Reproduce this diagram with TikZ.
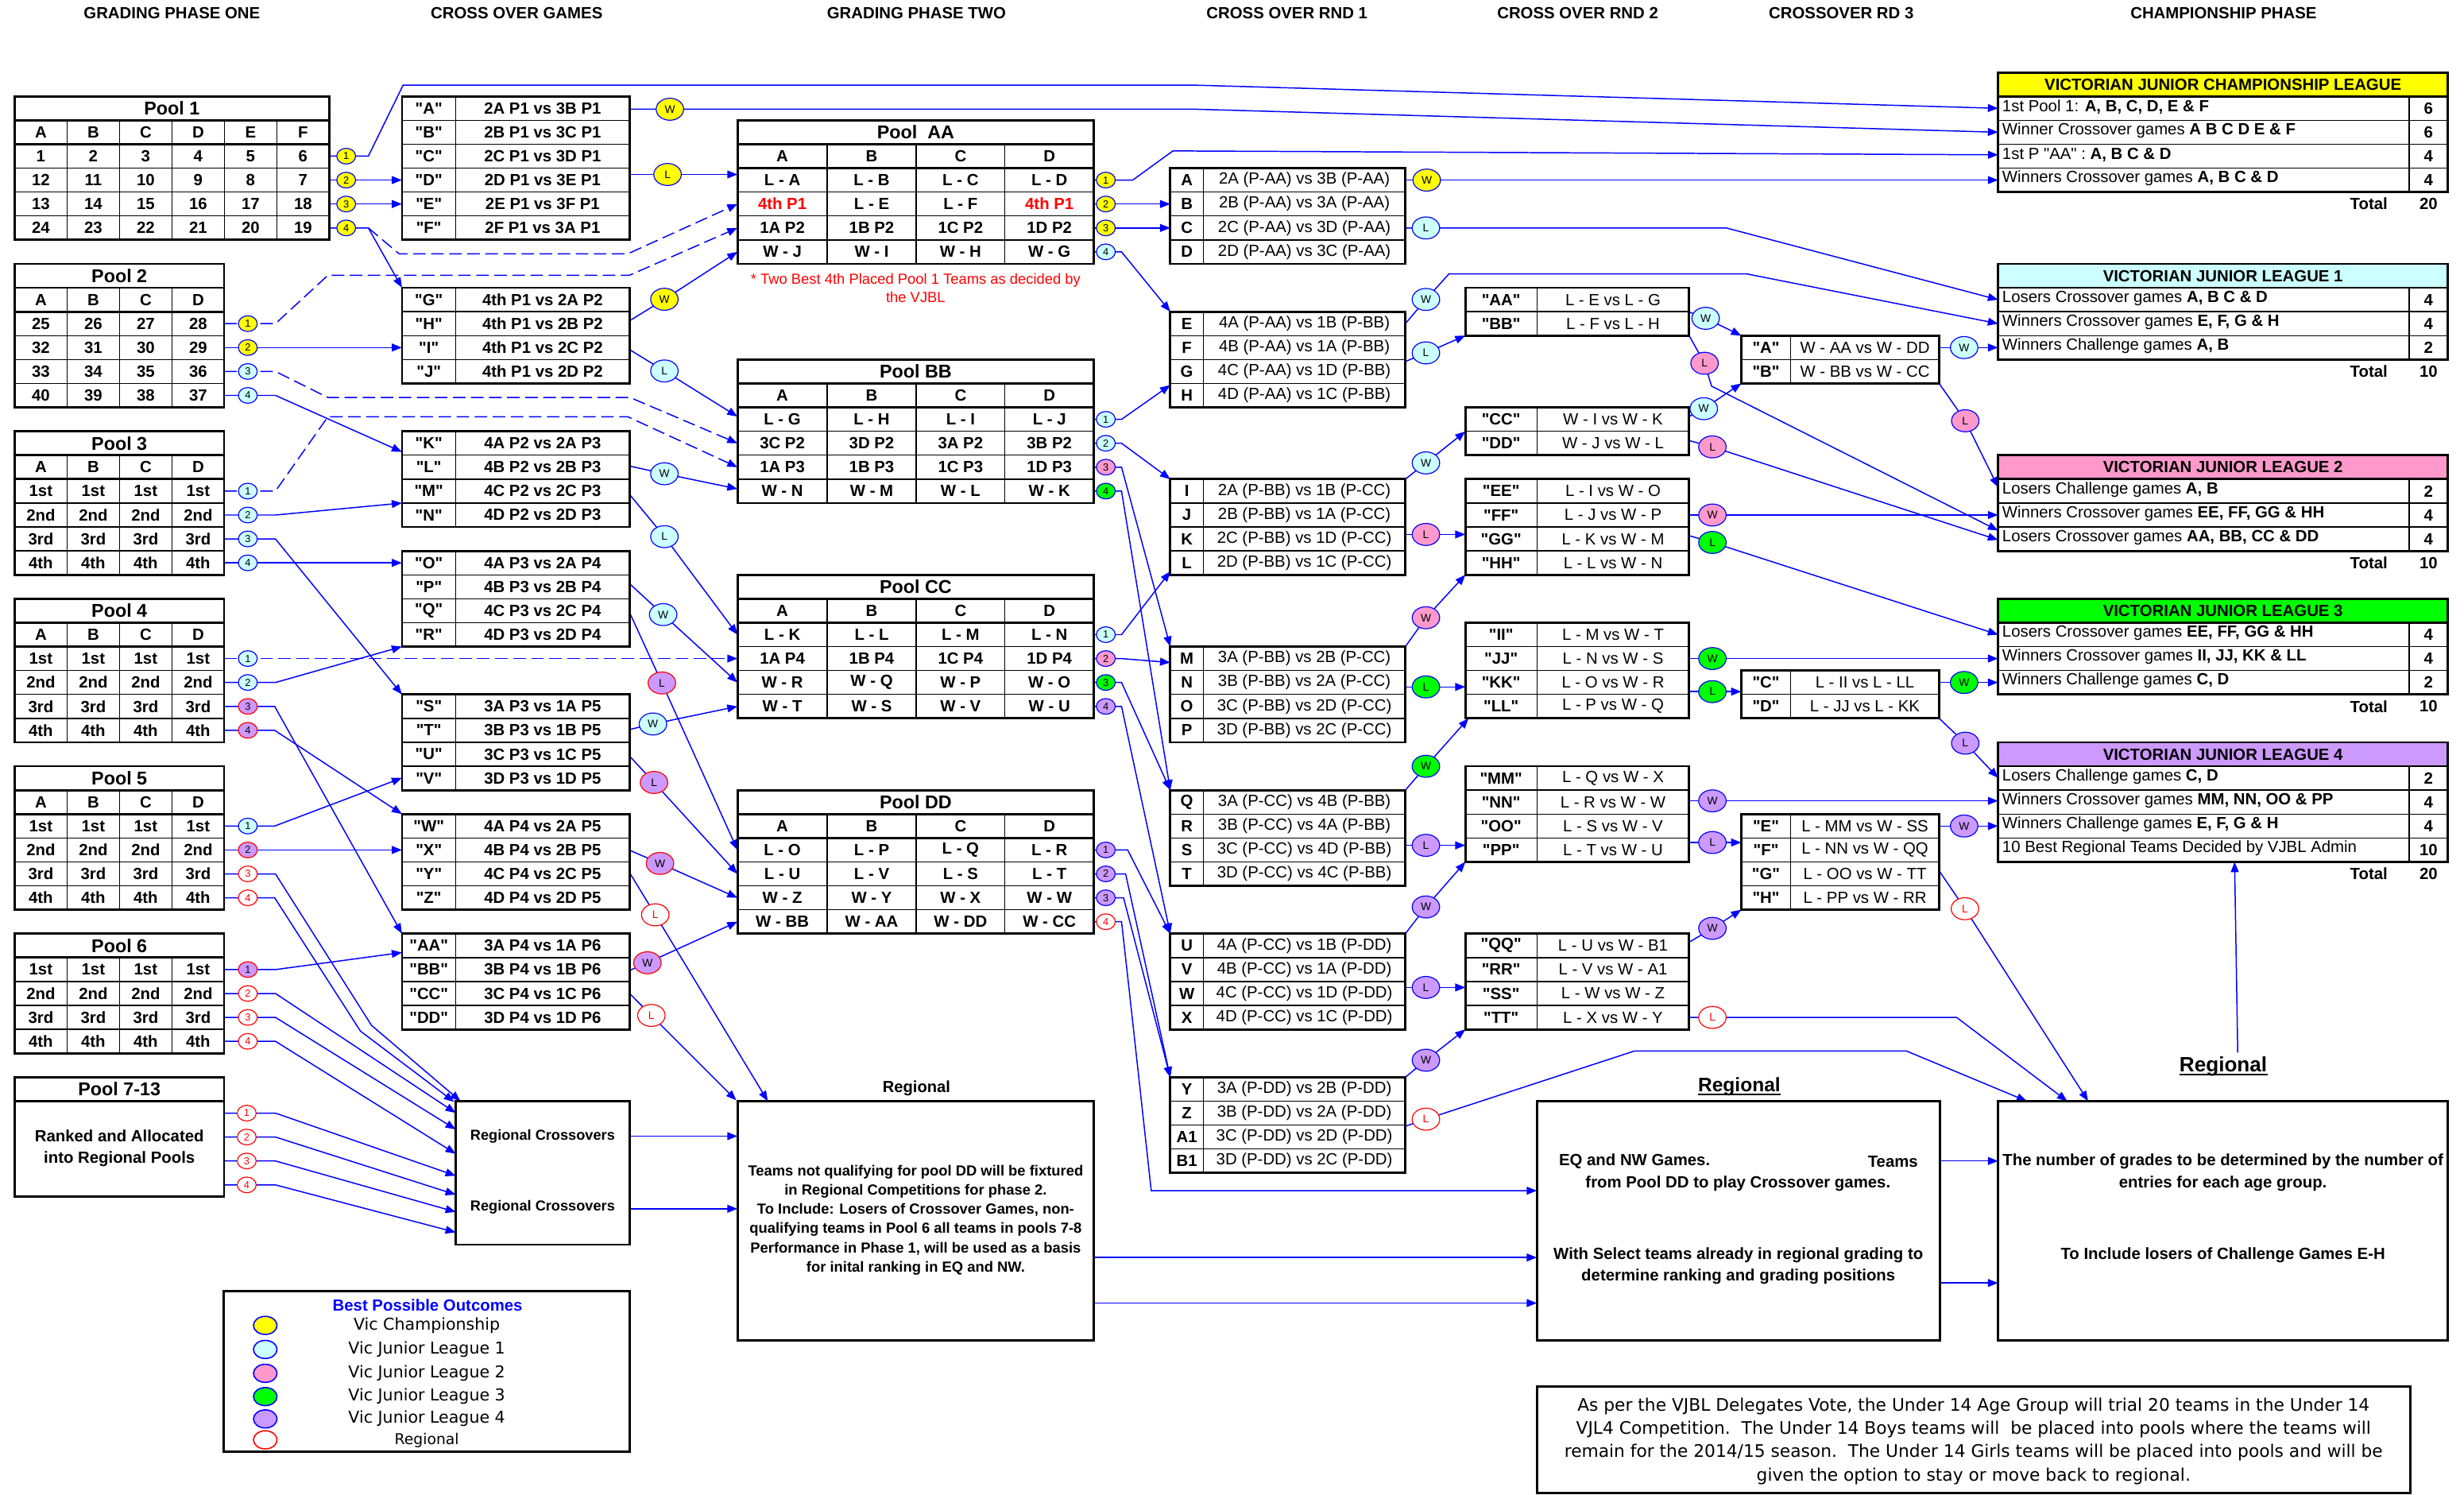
\documentclass[tikz,border=0pt]{standalone}
\usepackage{fontspec}
\setmainfont{Liberation Sans}
\newfontfamily\dejavu{DejaVu Sans}
\usetikzlibrary{arrows.meta,shapes.geometric}
\definecolor{yelC}{HTML}{FFFF00}
\definecolor{cyanC}{HTML}{CCFFFF}
\definecolor{pinkC}{HTML}{FF99CC}
\definecolor{greenC}{HTML}{00FF00}
\definecolor{purpC}{HTML}{CC99FF}
\definecolor{lnC}{HTML}{0000FF}
\newcommand\dq{\XeTeXglyph\XeTeXcharglyph34\relax}
\tikzset{
 gridl/.style={line width=0.7pt, draw=black},
 tframe/.style={line width=1.4pt, draw=black},
 ln/.style={draw=lnC, line width=0.75pt},
 arr/.style={ln, -{Triangle[length=6.5pt,width=5pt]}},
 dsh/.style={arr, dash pattern=on 8pt off 3.5pt},
 bt/.style={inner sep=0pt, font=\fontsize{10.3}{12.4}\selectfont\bfseries},
 rt/.style={inner sep=0pt, font=\fontsize{10.3}{12.4}\selectfont},
 ttl/.style={inner sep=0pt, font=\fontsize{11.8}{14}\selectfont\bfseries},
 smc/.style={ellipse, line width=0.6pt, inner sep=0pt, minimum width=12pt, minimum height=10pt, font=\fontsize{6.5}{7}\selectfont},
 bigc/.style={smc, minimum width=17.5pt, minimum height=14pt, font=\fontsize{7}{8}\selectfont},
}
\newcommand\mytab[7]{%
 \pgfmathsetmacro\myA{46.08+15.22*(#3)}%
 \pgfmathsetmacro\myB{46.08+15.22*(#3+#4)}%
 \pgfmathsetmacro\myC{46.08+15.22*(#3+#6)}%
 \pgfmathtruncatemacro\myN{#4-1}%
 \foreach \kk in {1,...,\myN}{\pgfmathsetmacro\myY{46.08+15.22*(#3+\kk)}\draw[gridl] (#1,\myY) -- (#2,\myY);}%
 \foreach \xx in {#5}{\draw[gridl] (\xx,\myC) -- (\xx,\myB);}%
 \foreach \kk in {#7}{\pgfmathsetmacro\myY{46.08+15.22*(#3+\kk)}\draw[tframe] (#1,\myY) -- (#2,\myY);}%
 \draw[tframe] (#1,\myA) rectangle (#2,\myB);%
}
\newcommand\rtx[4]{%
 \pgfmathsetmacro\myR{46.08+15.22*(#2+0.5)}%
 \foreach \cx/\ct [count=\ci] in {#4}{\node[#3] (#1-\ci) at (\cx,\myR) {\ct};}%
}
\newcommand\two[8]{%
 \pgfmathsetmacro\myR{46.08+15.22*(#2+0.5)}%
 \node[#4] (#1a) at (#3,\myR) {#5};%
 \node[#7] (#1b) at (#6,\myR) {#8};%
}
\newcommand\xG[3]{\two{xg#1}{#1}{272.9}{bt}{#2}{345.3}{bt}{#3}}
\newcommand\xRa[3]{\two{ra#1}{#1}{755.25}{bt}{#2}{830.05}{rt}{#3}}
\newcommand\xRb[3]{\two{rb#1}{#1}{955.25}{bt}{#2}{1026.45}{rt}{#3}}
\newcommand\xRc[3]{\two{rc#1}{#1}{1123.8}{bt}{#2}{1186.75}{rt}{#3}}
\newcommand\chrow[3]{%
 \pgfmathsetmacro\myR{46.08+15.22*(#1+0.5)}%
 \node[rt,anchor=west] (ch#1a) at (1274,\myR-1) {#2};%
 \node[bt] (ch#1b) at (1545.4,\myR) {#3};%
}
\def\smallC{p1a/220.3/99.35/yelC/lnC/black/1,
p1b/220.3/114.57/yelC/lnC/black/2,
p1c/220.3/129.79/yelC/lnC/black/3,
p1d/220.3/145.01/yelC/lnC/black/4,
p2a/157.7/205.89/yelC/lnC/black/1,
p2b/157.7/221.11/yelC/lnC/black/2,
p2c/157.7/236.33/cyanC/lnC/black/3,
p2d/157.7/251.55/cyanC/lnC/black/4,
p3a/157.7/312.43/cyanC/lnC/black/1,
p3b/157.7/327.65/cyanC/lnC/black/2,
p3c/157.7/342.87/cyanC/lnC/black/3,
p3d/157.7/358.09/cyanC/lnC/black/4,
p4a/157.7/418.97/cyanC/lnC/black/1,
p4b/157.7/434.19/cyanC/lnC/black/2,
p4c/157.7/449.41/purpC/red/black/3,
p4d/157.7/464.63/purpC/red/black/4,
p5a/157.7/525.51/cyanC/lnC/black/1,
p5b/157.7/540.73/purpC/red/black/2,
p5c/157.7/555.95/white/red/red/3,
p5d/157.7/571.17/white/red/red/4,
p6a/157.7/616.83/purpC/red/black/1,
p6b/157.7/632.05/white/red/red/2,
p6c/157.7/647.27/white/red/red/3,
p6d/157.7/662.49/white/red/red/4,
p7a/157/708.15/white/red/red/1,
p7b/157/723.37/white/red/red/2,
p7c/157/738.59/white/red/red/3,
p7d/157/753.81/white/red/red/4,
aa1/703.7/114.57/yelC/lnC/black/1,
aa2/703.7/129.79/yelC/lnC/black/2,
aa3/703.7/145.01/yelC/lnC/black/3,
aa4/703.7/160.23/cyanC/lnC/black/4,
bb1/703.7/266.77/cyanC/lnC/black/1,
bb2/703.7/281.99/cyanC/lnC/black/2,
bb3/703.7/297.21/pinkC/lnC/black/3,
bb4/703.7/312.43/greenC/lnC/black/4,
cc1/703.7/403.75/cyanC/lnC/black/1,
cc2/703.7/418.97/pinkC/lnC/black/2,
cc3/703.7/434.19/greenC/lnC/black/3,
cc4/703.7/449.41/purpC/lnC/black/4,
dd1/703.7/540.73/purpC/lnC/black/1,
dd2/703.7/555.95/purpC/lnC/black/2,
dd3/703.7/571.17/purpC/lnC/black/3,
dd4/703.7/586.39/white/red/red/4}
\def\bigC{m1/426.3/69.5/yelC/lnC/black/W,
m2/424.8/111/yelC/lnC/black/L,
m3/422.8/190.4/yelC/lnC/black/W,
m4/422.8/236/cyanC/lnC/black/L,
m5/422.8/301.4/cyanC/lnC/black/W,
m6/422.8/341.4/cyanC/lnC/black/L,
m7/422/391/cyanC/lnC/black/W,
m8/421.2/434.5/purpC/red/black/L,
m9/415.5/460.6/cyanC/lnC/black/W,
m10/416.2/497.8/purpC/red/black/L,
m11/420/549.3/purpC/red/black/W,
m12/417/582/white/red/red/L,
m13/412/612.5/purpC/red/black/W,
m14/414.5/646/white/red/red/L,
n1/907.9/114.57/yelC/lnC/black/W,
n2/907.4/145.01/cyanC/lnC/black/L,
n3/907.4/190.5/cyanC/lnC/black/W,
n4/907.4/224.5/cyanC/lnC/black/L,
n5/907.4/294.5/cyanC/lnC/black/W,
n6/907.4/340/pinkC/lnC/black/L,
n7/907.4/393/pinkC/lnC/black/W,
n8/907.4/437/greenC/lnC/black/L,
n9/907.4/487.5/greenC/lnC/black/W,
n10/907.4/537.8/purpC/lnC/black/L,
n11/907.4/577/purpC/lnC/black/W,
n12/907.4/628.2/purpC/lnC/black/L,
n13/907.4/674.5/purpC/lnC/black/W,
n14/907.4/712/white/red/red/L,
o1/1085.4/202.5/cyanC/lnC/black/W,
o2/1084.7/231.1/pinkC/lnC/black/L,
o3/1084.2/260/cyanC/lnC/black/W,
o4/1089.7/284.3/pinkC/lnC/black/L,
o5/1089.7/327.65/pinkC/lnC/black/W,
o6/1089.7/345.1/greenC/lnC/black/L,
o7/1089.7/418.97/greenC/lnC/black/W,
o8/1089.7/440/greenC/lnC/black/L,
o9/1089.7/509.5/purpC/lnC/black/W,
o10/1089.7/536/purpC/lnC/black/L,
o11/1089.7/590.6/purpC/lnC/black/W,
o12/1089.7/647.27/white/red/red/L,
q1/1249.9/221.11/cyanC/lnC/black/W,
q2/1250.6/267.7/pinkC/lnC/black/L,
q3/1249.9/434.19/greenC/lnC/black/W,
q4/1250.6/472.8/purpC/lnC/black/L,
q5/1249.9/525.51/purpC/lnC/black/W,
q6/1250.4/578.1/white/red/red/L}
\begin{document}
\begin{tikzpicture}[x=1pt,y=-1pt]
\useasboundingbox (0,0) rectangle (1568,951);
\fill[white] (0,0) rectangle (1568,951);
% ---------- coordinates of circles
\foreach \ZN/\ZX/\ZY/\ZF/\ZD/\ZT/\ZL in \smallC {\coordinate (\ZN) at (\ZX,\ZY);}
\foreach \ZN/\ZX/\ZY/\ZF/\ZD/\ZT/\ZL in \bigC {\coordinate (\ZN) at (\ZX,\ZY);}
% ---------- connectors
\draw[arr] (209.5,99.35) -- (p1a) -- (234.4,99.35) -- (256.5,54.2) -- (761.5,54.2) -- (1271.5,68.91);
\draw[arr] (400.6,69.5) -- (m1) -- (761.5,69.5) -- (1271.5,84.13);
\draw[arr] (696.1,114.57) -- (aa1) -- (720.8,114.57) -- (746.4,96) -- (1271.5,98.5);
\draw[arr] (894.3,114.57) -- (n1) -- (1271.5,114.57);
\draw[arr] (209.5,114.57) -- (p1b) -- (255.8,114.57);
\draw[arr] (209.5,129.79) -- (p1c) -- (255.8,129.79);
\draw[arr] (209.5,145.01) -- (p1d) -- (234.4,145.01) -- (255.8,183.06);
\draw[dsh] (234.4,145.01) -- (254,161.5) -- (399.4,161.5) -- (469.3,129.79);
\draw[dsh] (142.6,205.89) -- (p2a) -- (175.3,205.89) -- (208.7,175.1) -- (400.6,175.1) -- (469.3,145.01);
\draw[arr] (142.6,221.11) -- (p2b) -- (255.8,221.11);
\draw[dsh] (142.6,236.33) -- (p2c) -- (175.3,236.33) -- (208.7,252.9) -- (401,252.9) -- (469.3,281.99);
\draw[arr] (142.6,251.55) -- (p2d) -- (175.3,251.55) -- (255.8,287.5);
\draw[dsh] (142.6,312.43) -- (p3a) -- (175.3,312.43) -- (208.7,265.1) -- (399.4,265.1) -- (469.3,297.21);
\draw[arr] (142.6,327.65) -- (p3b) -- (175.3,327.65) -- (255.8,320.04);
\draw[arr] (142.6,342.87) -- (p3c) -- (175.3,342.87) -- (255.8,441.8);
\draw[arr] (142.6,358.09) -- (p3d) -- (255.8,358.09);
\draw[dsh] (142.6,418.97) -- (p4a) -- (469.3,418.97);
\draw[arr] (142.6,434.19) -- (p4b) -- (175.3,434.19) -- (255.8,411.36);
\draw[arr] (142.6,449.41) -- (p4c) -- (174.8,449.41) -- (255.8,594);
\draw[arr] (142.6,464.63) -- (p4d) -- (174.8,464.63) -- (255.8,517.9);
\draw[arr] (142.6,525.51) -- (p5a) -- (174.8,525.51) -- (255.8,494.9);
\draw[arr] (142.6,540.73) -- (p5b) -- (255.8,540.73);
\draw[arr] (142.6,555.95) -- (p5c) -- (175.3,555.95) -- (236.4,652.3) -- (293,700.5);
\draw[arr] (142.6,571.17) -- (p5d) -- (174.8,571.17) -- (229.4,656) -- (289,701);
\draw[arr] (142.6,616.83) -- (p6a) -- (175.3,616.83) -- (255.8,606);
\draw[arr] (142.6,632.05) -- (p6b) -- (175.3,632.05) -- (290,708);
\draw[arr] (142.6,647.27) -- (p6c) -- (175.3,647.27) -- (290,718.5);
\draw[arr] (142.6,662.49) -- (p6d) -- (175.3,662.49) -- (290,734);
\draw[arr] (142.6,708.15) -- (p7a) -- (175.3,708.15) -- (290,748);
\draw[arr] (142.6,723.37) -- (p7b) -- (175.3,723.37) -- (290,760);
\draw[arr] (142.6,738.59) -- (p7c) -- (175.3,738.59) -- (290,771);
\draw[arr] (142.6,753.81) -- (p7d) -- (175.3,753.81) -- (290,784);
% middle-left
\draw[arr] (400.6,111) -- (m2) -- (469.3,111);
\draw[arr] (400.6,204.1) -- (m3) -- (469.3,160.23);
\draw[arr] (400.6,222.4) -- (m4) -- (469.3,265);
\draw[arr] (400.6,296.5) -- (m5) -- (469.3,311);
\draw[arr] (400.6,314.5) -- (m6) -- (469.3,403.75);
\draw[arr] (400.6,371.3) -- (m7) -- (469.3,434.19);
\draw[arr] (400.6,389.6) -- (m8) -- (469.3,540.73);
\draw[arr] (400.6,464.1) -- (m9) -- (469.3,449.41);
\draw[arr] (400.6,481) -- (m10) -- (469.3,555.95);
\draw[arr] (400.6,540.9) -- (m11) -- (469.3,571.17);
\draw[arr] (400.6,555.1) -- (m12) -- (488.6,700.54);
\draw[arr] (400.6,617.4) -- (m13) -- (469.3,586.39);
\draw[arr] (400.6,632) -- (m14) -- (468.5,700);
% pools AA-DD right side
\draw[arr] (696.1,129.79) -- (aa2) -- (744.7,129.79);
\draw[arr] (696.1,145.01) -- (aa3) -- (744.7,145.01);
\draw[arr] (696.1,160.23) -- (aa4) -- (713.7,160.23) -- (744.7,198.28);
\draw[arr] (696.1,266.77) -- (bb1) -- (713.7,266.77) -- (744.7,245);
\draw[arr] (696.1,281.99) -- (bb2) -- (713.7,281.99) -- (744.7,304.82);
\draw[arr] (696.1,297.21) -- (bb3) -- (713.7,297.21) -- (744.7,411.36);
\draw[arr] (696.1,312.43) -- (bb4) -- (713.7,312.43) -- (744.7,502.68);
\draw[arr] (696.1,403.75) -- (cc1) -- (713.7,403.75) -- (744.7,363.5);
\draw[arr] (696.1,418.97) -- (cc2) -- (713.7,418.97) -- (744.7,421.5);
\draw[arr] (696.1,434.19) -- (cc3) -- (713.7,434.19) -- (744.7,502.68);
\draw[arr] (696.1,449.41) -- (cc4) -- (713.7,449.41) -- (744.7,594);
\draw[arr] (696.1,540.73) -- (dd1) -- (717.6,540.73) -- (744.7,594);
\draw[arr] (696.1,555.95) -- (dd2) -- (716.3,555.95) -- (744.7,685.32);
\draw[arr] (696.1,571.17) -- (dd3) -- (715,571.17) -- (744.7,685.32);
\draw[arr] (696.1,586.39) -- (dd4) -- (713.7,586.39) -- (718.8,632) -- (732.6,757.5) -- (978,757.5);
% round 1 side
\draw[arr] (894.3,145.01) -- (n2) -- (1098.5,145.01) -- (1271.5,190.67);
\draw[arr] (894.3,205.89) -- (n3) -- (922,174.3) -- (1111.8,174.3) -- (1271.5,205.89);
\draw[arr] (894.3,230) -- (n4) -- (932.5,213.5);
\draw[arr] (894.3,304.82) -- (n5) -- (932.5,274.5);
\draw[arr] (894.3,340) -- (n6) -- (932.5,340);
\draw[arr] (894.3,411.36) -- (n7) -- (932.5,365.7);
\draw[arr] (894.3,437) -- (n8) -- (932.5,437);
\draw[arr] (894.3,502.68) -- (n9) -- (934.5,457.02);
\draw[arr] (894.3,537.8) -- (n10) -- (932.5,537.8);
\draw[arr] (894.3,594) -- (n11) -- (932.5,548.34);
\draw[arr] (894.3,628.2) -- (n12) -- (932.5,628.2);
\draw[arr] (894.3,685.32) -- (n13) -- (932.5,654.88);
\draw[arr] (894.3,716.5) -- (n14) -- (1040.2,668.6) -- (1213.1,668.6) -- (1289.8,700.54);
% round 2 side
\draw[arr] (1074.9,198.5) -- (o1) -- (1108.1,213.5);
\draw[arr] (1074.9,213.5) -- (o2) -- (1089.2,245.7) -- (1271.5,337.5);
\draw[arr] (1074.9,265) -- (o3) -- (1108.1,243.94);
\draw[arr] (1074.9,280.3) -- (o4) -- (1271.5,343.5);
\draw[arr] (1074.9,327.65) -- (o5) -- (1271.5,327.65);
\draw[arr] (1074.9,340.8) -- (o6) -- (1271.5,403.75);
\draw[arr] (1074.9,418.97) -- (o7) -- (1271.5,418.97);
\draw[arr] (1074.9,440) -- (o8) -- (1108.1,440);
\draw[arr] (1074.9,509.5) -- (o9) -- (1271.5,509.5);
\draw[arr] (1074.9,536) -- (o10) -- (1108.1,536);
\draw[arr] (1074.9,599.4) -- (o11) -- (1108.1,578.78);
\draw[arr] (1074.9,647.27) -- (o12) -- (1245.1,647.27) -- (1315.5,700.54);
% round 3 side
\draw[arr] (1234,221.11) -- (q1) -- (1271.5,221.11);
\draw[arr] (1234,243.94) -- (q2) -- (1271.5,310);
\draw[arr] (1234,434.19) -- (q3) -- (1271.5,434.19);
\draw[arr] (1234,457.02) -- (q4) -- (1271.5,494.87);
\draw[arr] (1234,525.51) -- (q5) -- (1271.5,525.51);
\draw[arr] (1234,554) -- (q6) -- (1328.8,700.54);
% bottom boxes
\draw[arr] (400.6,722.8) -- (469.3,722.8);
\draw[arr] (400.6,769) -- (469.3,769);
\draw[arr] (696.1,800) -- (978,800);
\draw[arr] (696.1,829) -- (978,829);
\draw[arr] (1234.5,738.6) -- (1271.5,738.6);
\draw[arr] (1234.5,816.2) -- (1271.5,816.2);
\coordinate (regtop) at (1424,669.6);
\draw[arr] (regtop) -- (1422,548.34);
% ---------- headers
\node[bt] (h1) at (109.4,8.5) {GRADING PHASE ONE};
\node[bt] (h2) at (328.8,8.5) {CROSS OVER GAMES};
\node[bt] (h3) at (583.2,8.5) {GRADING PHASE TWO};
\node[bt] (h4) at (819,8.5) {CROSS OVER RND 1};
\node[bt] (h5) at (1004,8.5) {CROSS OVER RND 2};
\node[bt] (h6) at (1171.7,8.5) {CROSSOVER RD 3};
\node[bt] (h7) at (1415,8.5) {CHAMPIONSHIP PHASE};
% ---------- Pool 1
\mytab{9.3}{209.5}{1}{6}{42.67,76.04,109.41,142.78,176.15}{1}{1,2}
\node[ttl] (pool1) at (109.4,68.91) {Pool 1};
\rtx{p1h}{2}{bt}{25.98/A,59.35/B,92.72/C,126.09/D,159.46/E,192.83/F}
\rtx{p1r1}{3}{bt}{25.98/1,59.35/2,92.72/3,126.09/4,159.46/5,192.83/6}
\rtx{p1r2}{4}{bt}{25.98/12,59.35/11,92.72/10,126.09/9,159.46/8,192.83/7}
\rtx{p1r3}{5}{bt}{25.98/13,59.35/14,92.72/15,126.09/16,159.46/17,192.83/18}
\rtx{p1r4}{6}{bt}{25.98/24,59.35/23,92.72/22,126.09/21,159.46/20,192.83/19}
% Pool 2
\mytab{9.3}{142.6}{8}{6}{42.67,76.04,109.41}{1}{1,2}
\node[ttl] (pool2) at (75.95,175.45) {Pool 2};
\rtx{p2h}{9}{bt}{25.98/A,59.35/B,92.72/C,126.09/D}
\rtx{p2r1}{10}{bt}{25.98/25,59.35/26,92.72/27,126.09/28}
\rtx{p2r2}{11}{bt}{25.98/32,59.35/31,92.72/30,126.09/29}
\rtx{p2r3}{12}{bt}{25.98/33,59.35/34,92.72/35,126.09/36}
\rtx{p2r4}{13}{bt}{25.98/40,59.35/39,92.72/38,126.09/37}
% Pools 3-5
\foreach \pt/\pn in {15/3,22/4,29/5}{%
 \mytab{9.3}{142.6}{\pt}{6}{42.67,76.04,109.41}{1}{1,2}
 \pgfmathsetmacro\myT{46.08+15.22*(\pt+0.5)}
 \node[ttl] (pool\pn) at (75.95,\myT) {Pool \pn};
 \rtx{p\pn h}{\pt+1}{bt}{25.98/A,59.35/B,92.72/C,126.09/D}
 \rtx{p\pn r1}{\pt+2}{bt}{25.98/1st,59.35/1st,92.72/1st,126.09/1st}
 \rtx{p\pn r2}{\pt+3}{bt}{25.98/2nd,59.35/2nd,92.72/2nd,126.09/2nd}
 \rtx{p\pn r3}{\pt+4}{bt}{25.98/3rd,59.35/3rd,92.72/3rd,126.09/3rd}
 \rtx{p\pn r4}{\pt+5}{bt}{25.98/4th,59.35/4th,92.72/4th,126.09/4th}
}
% Pool 6
\mytab{9.3}{142.6}{36}{5}{42.67,76.04,109.41}{1}{1}
\node[ttl] (pool6) at (75.95,601.61) {Pool 6};
\rtx{p6r1}{37}{bt}{25.98/1st,59.35/1st,92.72/1st,126.09/1st}
\rtx{p6r2}{38}{bt}{25.98/2nd,59.35/2nd,92.72/2nd,126.09/2nd}
\rtx{p6r3}{39}{bt}{25.98/3rd,59.35/3rd,92.72/3rd,126.09/3rd}
\rtx{p6r4}{40}{bt}{25.98/4th,59.35/4th,92.72/4th,126.09/4th}
% Pool 7-13
\draw[tframe] (9.3,685.32) rectangle (142.6,761.42);
\draw[tframe] (9.3,700.54) -- (142.6,700.54);
\node[ttl] (pool7) at (75.95,692.93) {Pool 7-13};
\node[bt,align=center,font=\fontsize{10.3}{13.8}\selectfont\bfseries] (pool7t) at (75.95,730.7) {Ranked and Allocated\\into Regional Pools};
% ---------- cross over games
\mytab{255.8}{400.6}{1}{6}{290}{0}{0}
\xG{1}{\dq A\dq}{2A P1 vs 3B P1}\xG{2}{\dq B\dq}{2B P1 vs 3C P1}\xG{3}{\dq C\dq}{2C P1 vs 3D P1}
\xG{4}{\dq D\dq}{2D P1 vs 3E P1}\xG{5}{\dq E\dq}{2E P1 vs 3F P1}\xG{6}{\dq F\dq}{2F P1 vs 3A P1}
\mytab{255.8}{400.6}{9}{4}{290}{0}{0}
\xG{9}{\dq G\dq}{4th P1 vs 2A P2}\xG{10}{\dq H\dq}{4th P1 vs 2B P2}\xG{11}{\dq I\dq}{4th P1 vs 2C P2}\xG{12}{\dq J\dq}{4th P1 vs 2D P2}
\mytab{255.8}{400.6}{15}{4}{290}{0}{0}
\xG{15}{\dq K\dq}{4A P2 vs 2A P3}\xG{16}{\dq L\dq}{4B P2 vs 2B P3}\xG{17}{\dq M\dq}{4C P2 vs 2C P3}\xG{18}{\dq N\dq}{4D P2 vs 2D P3}
\mytab{255.8}{400.6}{20}{4}{290}{0}{0}
\xG{20}{\dq O\dq}{4A P3 vs 2A P4}\xG{21}{\dq P\dq}{4B P3 vs 2B P4}\xG{22}{\dq Q\dq}{4C P3 vs 2C P4}\xG{23}{\dq R\dq}{4D P3 vs 2D P4}
\mytab{255.8}{400.6}{26}{4}{290}{0}{0}
\xG{26}{\dq S\dq}{3A P3 vs 1A P5}\xG{27}{\dq T\dq}{3B P3 vs 1B P5}\xG{28}{\dq U\dq}{3C P3 vs 1C P5}\xG{29}{\dq V\dq}{3D P3 vs 1D P5}
\mytab{255.8}{400.6}{31}{4}{290}{0}{0}
\xG{31}{\dq W\dq}{4A P4 vs 2A P5}\xG{32}{\dq X\dq}{4B P4 vs 2B P5}\xG{33}{\dq Y\dq}{4C P4 vs 2C P5}\xG{34}{\dq Z\dq}{4D P4 vs 2D P5}
\mytab{255.8}{400.6}{36}{4}{290}{0}{0}
\xG{36}{\dq AA\dq}{3A P4 vs 1A P6}\xG{37}{\dq BB\dq}{3B P4 vs 1B P6}\xG{38}{\dq CC\dq}{3C P4 vs 1C P6}\xG{39}{\dq DD\dq}{3D P4 vs 1D P6}
% ---------- pools AA-DD
\mytab{469.3}{696.1}{2}{6}{526.4,583,639.5}{1}{1,2}
\node[ttl] (poolAA) at (582.7,84.13) {Pool\ \ AA};
\rtx{aah}{3}{bt}{497.85/A,554.7/B,611.25/C,667.8/D}
\rtx{aar1}{4}{bt}{497.85/L - A,554.7/L - B,611.25/L - C,667.8/L - D}
\rtx{aar2}{5}{bt}{497.85/{\color{red}4th P1},554.7/L - E,611.25/L - F,667.8/{\color{red}4th P1}}
\rtx{aar3}{6}{bt}{497.85/1A P2,554.7/1B P2,611.25/1C P2,667.8/1D P2}
\rtx{aar4}{7}{bt}{497.85/W - J,554.7/W - I,611.25/W - H,667.8/W - G}
\node[inner sep=0pt,align=center,text=red,font=\fontsize{9.3}{12}\selectfont] (note4th) at (582.7,183.3) {* Two Best 4th Placed Pool 1 Teams as decided by\\the VJBL};
\mytab{469.3}{696.1}{12}{6}{526.4,583,639.5}{1}{1,2}
\node[ttl] (poolBB) at (582.7,236.33) {Pool BB};
\rtx{bbh}{13}{bt}{497.85/A,554.7/B,611.25/C,667.8/D}
\rtx{bbr1}{14}{bt}{497.85/L - G,554.7/L - H,611.25/L - I,667.8/L - J}
\rtx{bbr2}{15}{bt}{497.85/3C P2,554.7/3D P2,611.25/3A P2,667.8/3B P2}
\rtx{bbr3}{16}{bt}{497.85/1A P3,554.7/1B P3,611.25/1C P3,667.8/1D P3}
\rtx{bbr4}{17}{bt}{497.85/W - N,554.7/W - M,611.25/W - L,667.8/W - K}
\mytab{469.3}{696.1}{21}{6}{526.4,583,639.5}{1}{1,2}
\node[ttl] (poolCC) at (582.7,373.31) {Pool CC};
\rtx{cch}{22}{bt}{497.85/A,554.7/B,611.25/C,667.8/D}
\rtx{ccr1}{23}{bt}{497.85/L - K,554.7/L - L,611.25/L - M,667.8/L - N}
\rtx{ccr2}{24}{bt}{497.85/1A P4,554.7/1B P4,611.25/1C P4,667.8/1D P4}
\rtx{ccr3}{25}{bt}{497.85/W - R,554.7/W - Q,611.25/W - P,667.8/W - O}
\rtx{ccr4}{26}{bt}{497.85/W - T,554.7/W - S,611.25/W - V,667.8/W - U}
\mytab{469.3}{696.1}{30}{6}{526.4,583,639.5}{1}{1,2}
\node[ttl] (poolDD) at (582.7,510.29) {Pool DD};
\rtx{ddh}{31}{bt}{497.85/A,554.7/B,611.25/C,667.8/D}
\rtx{ddr1}{32}{bt}{497.85/L - O,554.7/L - P,611.25/L - Q,667.8/L - R}
\rtx{ddr2}{33}{bt}{497.85/L - U,554.7/L - V,611.25/L - S,667.8/L - T}
\rtx{ddr3}{34}{bt}{497.85/W - Z,554.7/W - Y,611.25/W - X,667.8/W - W}
\rtx{ddr4}{35}{bt}{497.85/W - BB,554.7/W - AA,611.25/W - DD,667.8/W - CC}
% ---------- cross over round 1
\mytab{744.7}{894.3}{4}{4}{765.8}{0}{0}
\xRa{4}{A}{2A (P-AA) vs 3B (P-AA)}\xRa{5}{B}{2B (P-AA) vs 3A (P-AA)}\xRa{6}{C}{2C (P-AA) vs 3D (P-AA)}\xRa{7}{D}{2D (P-AA) vs 3C (P-AA)}
\mytab{744.7}{894.3}{10}{4}{765.8}{0}{0}
\xRa{10}{E}{4A (P-AA) vs 1B (P-BB)}\xRa{11}{F}{4B (P-AA) vs 1A (P-BB)}\xRa{12}{G}{4C (P-AA) vs 1D (P-BB)}\xRa{13}{H}{4D (P-AA) vs 1C (P-BB)}
\mytab{744.7}{894.3}{17}{4}{765.8}{0}{0}
\xRa{17}{I}{2A (P-BB) vs 1B (P-CC)}\xRa{18}{J}{2B (P-BB) vs 1A (P-CC)}\xRa{19}{K}{2C (P-BB) vs 1D (P-CC)}\xRa{20}{L}{2D (P-BB) vs 1C (P-CC)}
\mytab{744.7}{894.3}{24}{4}{765.8}{0}{0}
\xRa{24}{M}{3A (P-BB) vs 2B (P-CC)}\xRa{25}{N}{3B (P-BB) vs 2A (P-CC)}\xRa{26}{O}{3C (P-BB) vs 2D (P-CC)}\xRa{27}{P}{3D (P-BB) vs 2C (P-CC)}
\mytab{744.7}{894.3}{30}{4}{765.8}{0}{0}
\xRa{30}{Q}{3A (P-CC) vs 4B (P-BB)}\xRa{31}{R}{3B (P-CC) vs 4A (P-BB)}\xRa{32}{S}{3C (P-CC) vs 4D (P-BB)}\xRa{33}{T}{3D (P-CC) vs 4C (P-BB)}
\mytab{744.7}{894.3}{36}{4}{765.8}{0}{0}
\xRa{36}{U}{4A (P-CC) vs 1B (P-DD)}\xRa{37}{V}{4B (P-CC) vs 1A (P-DD)}\xRa{38}{W}{4C (P-CC) vs 1D (P-DD)}\xRa{39}{X}{4D (P-CC) vs 1C (P-DD)}
\mytab{744.7}{894.3}{42}{4}{765.8}{0}{0}
\xRa{42}{Y}{3A (P-DD) vs 2B (P-DD)}\xRa{43}{Z}{3B (P-DD) vs 2A (P-DD)}\xRa{44}{A1}{3C (P-DD) vs 2D (P-DD)}\xRa{45}{B1}{3D (P-DD) vs 2C (P-DD)}
% ---------- cross over round 2
\mytab{932.5}{1074.9}{9}{2}{978}{0}{0}
\xRb{9}{\dq AA\dq}{L - E vs L - G}\xRb{10}{\dq BB\dq}{L - F vs L - H}
\mytab{932.5}{1074.9}{14}{2}{978}{0}{0}
\xRb{14}{\dq CC\dq}{W - I vs W - K}\xRb{15}{\dq DD\dq}{W - J vs W - L}
\mytab{932.5}{1074.9}{17}{4}{978}{0}{0}
\xRb{17}{\dq EE\dq}{L - I vs W - O}\xRb{18}{\dq FF\dq}{L - J vs W - P}\xRb{19}{\dq GG\dq}{L - K vs W - M}\xRb{20}{\dq HH\dq}{L - L vs W - N}
\mytab{932.5}{1074.9}{23}{4}{978}{0}{0}
\xRb{23}{\dq II\dq}{L - M vs W - T}\xRb{24}{\dq JJ\dq}{L - N vs W - S}\xRb{25}{\dq KK\dq}{L - O vs W - R}\xRb{26}{\dq LL\dq}{L - P vs W - Q}
\mytab{932.5}{1074.9}{29}{4}{978}{0}{0}
\xRb{29}{\dq MM\dq}{L - Q vs W - X}\xRb{30}{\dq NN\dq}{L - R vs W - W}\xRb{31}{\dq OO\dq}{L - S vs W - V}\xRb{32}{\dq PP\dq}{L - T vs W - U}
\mytab{932.5}{1074.9}{36}{4}{978}{0}{0}
\xRb{36}{\dq QQ\dq}{L - U vs W - B1}\xRb{37}{\dq RR\dq}{L - V vs W - A1}\xRb{38}{\dq SS\dq}{L - W vs W - Z}\xRb{39}{\dq TT\dq}{L - X vs W - Y}
% ---------- crossover round 3
\mytab{1108.1}{1234}{11}{2}{1139.5}{0}{0}
\xRc{11}{\dq A\dq}{W - AA vs W - DD}\xRc{12}{\dq B\dq}{W - BB vs W - CC}
\mytab{1108.1}{1234}{25}{2}{1139.5}{0}{0}
\xRc{25}{\dq C\dq}{L - II vs L - LL}\xRc{26}{\dq D\dq}{L - JJ vs L - KK}
\mytab{1108.1}{1234}{31}{4}{1139.5}{0}{0}
\xRc{31}{\dq E\dq}{L - MM vs W - SS}\xRc{32}{\dq F\dq}{L - NN vs W - QQ}\xRc{33}{\dq G\dq}{L - OO vs W - TT}\xRc{34}{\dq H\dq}{L - PP vs W - RR}
% ---------- championship phase
\fill[yelC] (1271.5,46.08) rectangle (1557.7,61.3);
\mytab{1271.5}{1557.7}{0}{5}{1533.1}{1}{1}
\node[bt] (vjcl) at (1414.6,53.69) {VICTORIAN JUNIOR CHAMPIONSHIP LEAGUE};
\chrow{1}{1st Pool 1: \textbf{A, B, C, D, E \& F}}{6}
\chrow{2}{Winner Crossover games \textbf{A B C D E \& F}}{6}
\chrow{3}{1st P \dq AA\dq{} : \textbf{A, B C \& D}}{4}
\chrow{4}{Winners Crossover games \textbf{A, B C \& D}}{4}
\node[bt] (tot1) at (1507.4,129.79) {Total}; \node[bt] (tot1n) at (1545.4,129.79) {20};
\fill[cyanC] (1271.5,167.84) rectangle (1557.7,183.06);
\mytab{1271.5}{1557.7}{8}{4}{1533.1}{1}{1}
\node[bt] (vjl1) at (1414.6,175.45) {VICTORIAN JUNIOR LEAGUE 1};
\chrow{9}{Losers Crossover games \textbf{A, B C \& D}}{4}
\chrow{10}{Winners Crossover games \textbf{E, F, G \& H}}{4}
\chrow{11}{Winners Challenge games \textbf{A, B}}{2}
\node[bt] (tot2) at (1507.4,236.33) {Total}; \node[bt] (tot2n) at (1545.4,236.33) {10};
\fill[pinkC] (1271.5,289.6) rectangle (1557.7,304.82);
\mytab{1271.5}{1557.7}{16}{4}{1533.1}{1}{1}
\node[bt] (vjl2) at (1414.6,297.21) {VICTORIAN JUNIOR LEAGUE 2};
\chrow{17}{Losers Challenge games \textbf{A, B}}{2}
\chrow{18}{Winners Crossover games \textbf{EE, FF, GG \& HH}}{4}
\chrow{19}{Losers Crossover games \textbf{AA, BB, CC \& DD}}{4}
\node[bt] (tot3) at (1507.4,358.09) {Total}; \node[bt] (tot3n) at (1545.4,358.09) {10};
\fill[greenC] (1271.5,380.92) rectangle (1557.7,396.14);
\mytab{1271.5}{1557.7}{22}{4}{1533.1}{1}{1}
\node[bt] (vjl3) at (1414.6,388.53) {VICTORIAN JUNIOR LEAGUE 3};
\chrow{23}{Losers Crossover games \textbf{EE, FF, GG \& HH}}{4}
\chrow{24}{Winners Crossover games \textbf{II, JJ, KK \& LL}}{4}
\chrow{25}{Winners Challenge games \textbf{C, D}}{2}
\node[bt] (tot4) at (1507.4,449.41) {Total}; \node[bt] (tot4n) at (1545.4,449.41) {10};
\fill[purpC] (1271.5,472.24) rectangle (1557.7,487.46);
\mytab{1271.5}{1557.7}{28}{5}{1533.1}{1}{1}
\node[bt] (vjl4) at (1414.6,479.85) {VICTORIAN JUNIOR LEAGUE 4};
\chrow{29}{Losers Challenge games \textbf{C, D}}{2}
\chrow{30}{Winners Crossover games \textbf{MM, NN, OO \& PP}}{4}
\chrow{31}{Winners Challenge games \textbf{E, F, G \& H}}{4}
\chrow{32}{10 Best Regional Teams Decided by VJBL Admin}{10}
\node[bt] (tot5) at (1507.4,555.95) {Total}; \node[bt] (tot5n) at (1545.4,555.95) {20};
% ---------- regional boxes
\draw[tframe] (290,700.54) rectangle (400.6,791.86);
\node[bt,font=\fontsize{9.2}{11}\selectfont\bfseries] (rc1) at (345.3,722.8) {Regional Crossovers};
\node[bt,font=\fontsize{9.2}{11}\selectfont\bfseries] (rc2) at (345.3,768.1) {Regional Crossovers};
\draw[tframe] (469.3,700.54) rectangle (696.1,852.74);
\node[bt,font=\fontsize{10.2}{12}\selectfont\bfseries] (regA) at (583.2,692.5) {Regional};
\node[bt,align=center,font=\fontsize{9.3}{12.2}\selectfont\bfseries] (regAt) at (582.7,776.2) {Teams not qualifying for pool DD will be fixtured\\in Regional Competitions for phase 2.\\To Include: Losers of Crossover Games, non-\\qualifying teams in Pool 6 all teams in pools 7-8\\Performance in Phase 1, will be used as a basis\\for inital ranking in EQ and NW.};
\draw[tframe] (978,700.54) rectangle (1234.5,852.74);
\node[bt,font=\fontsize{12.4}{14}\selectfont\bfseries] (regB) at (1106.8,691.3) {Regional};
\draw[line width=1pt] ([yshift=-1.8pt]regB.base west) -- ([yshift=-1.8pt]regB.base east);
\node[bt,anchor=west] (regB1) at (991.9,739) {EQ and NW Games.};
\node[bt,anchor=east] (regB2) at (1220.7,739) {Teams};
\node[bt] (regB3) at (1106,752.9) {from Pool DD to play Crossover games.};
\node[bt,align=center,font=\fontsize{10.3}{13.9}\selectfont\bfseries] (regB4) at (1106.2,805.45) {With Select teams already in regional grading to\\determine ranking and grading positions};
\draw[tframe] (1271.5,700.54) rectangle (1557.7,852.74);
\node[bt,font=\fontsize{13.2}{15}\selectfont\bfseries] (regC) at (1414.8,678.3) {Regional};
\draw[line width=1.1pt] ([yshift=-2pt]regC.base west) -- ([yshift=-2pt]regC.base east);
\node[bt,align=center,font=\fontsize{10.3}{13.9}\selectfont\bfseries] (regC1) at (1414.6,745.95) {The number of grades to be determined by the number of\\entries for each age group.};
\node[bt] (regC2) at (1414.6,798.5) {To Include losers of Challenge Games E-H};
% ---------- legend
\draw[tframe] (142.4,821.3) rectangle (400.6,923.5);
\node[bt,text=lnC] (lgt) at (272.1,830.6) {Best Possible Outcomes};
\foreach \ly/\lf/\ld/\lt [count=\li] in {843.2/yelC/lnC/Vic Championship,858.5/cyanC/lnC/Vic Junior League 1,873.7/pinkC/lnC/Vic Junior League 2,888.5/greenC/lnC/Vic Junior League 3,902.7/purpC/lnC/Vic Junior League 4}{%
 \node[ellipse,draw=\ld,fill=\lf,line width=0.8pt,minimum width=15pt,minimum height=11.5pt,inner sep=0pt] (lge\li) at (168.8,\ly) {};
 \node[inner sep=0pt,font=\dejavu\fontsize{10.4}{12}\selectfont] (lgl\li) at (271.6,\ly) {\lt};
}
\node[ellipse,draw=red,fill=white,line width=0.8pt,minimum width=15pt,minimum height=11.5pt,inner sep=0pt] (lge6) at (168.8,916) {};
\node[inner sep=0pt,font=\dejavu\fontsize{9.5}{11}\selectfont] (lgl6) at (271.6,916.3) {Regional};
% ---------- note
\draw[tframe] (978,882.2) rectangle (1533.8,950);
\node[inner sep=0pt,align=center,font=\dejavu\fontsize{11}{14.8}\selectfont] (note) at (1255.9,916.85) {As per the VJBL Delegates Vote, the Under 14 Age Group will trial 20 teams in the Under 14\\VJL4 Competition.\ \ The Under 14 Boys teams will\ \ be placed into pools where the teams will\\remain for the 2014/15 season.\ \ The Under 14 Girls teams will be placed into pools and will be\\given the option to stay or move back to regional.};
% ---------- circles on top
\foreach \ZN/\ZX/\ZY/\ZF/\ZD/\ZT/\ZL in \smallC {\node[smc,fill=\ZF,draw=\ZD,text=\ZT] (\ZN-c) at (\ZN) {\ZL};}
\foreach \ZN/\ZX/\ZY/\ZF/\ZD/\ZT/\ZL in \bigC {\node[bigc,fill=\ZF,draw=\ZD,text=\ZT] (\ZN-c) at (\ZN) {\ZL};}
\end{tikzpicture}
\end{document}
